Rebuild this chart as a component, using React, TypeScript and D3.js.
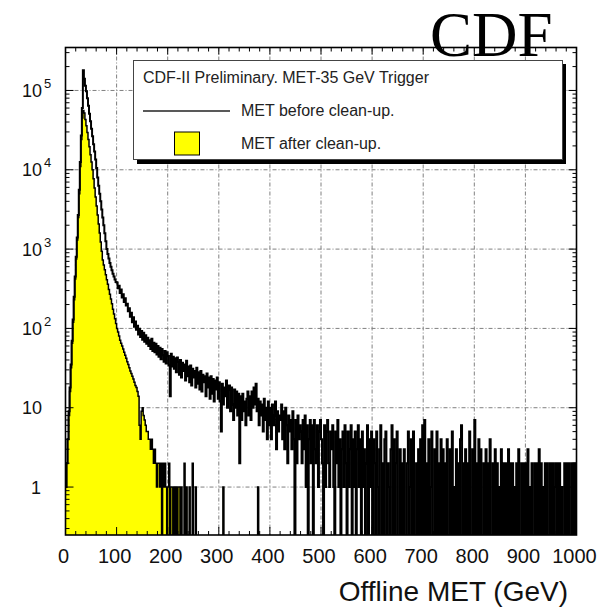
import React from 'react';
import * as d3 from 'd3';

// Histogram bin width in GeV
const BIN_WIDTH = 2;

// MET before clean-up (counts per 2 GeV bin, 0 - 1000 GeV)
const metBefore: number[] = [
  1, 2, 4, 9, 18, 35, 70, 130, 250, 450,
  800, 1400, 2700, 5600, 12500, 27000, 60000, 180000, 140000, 115000,
  98000, 80000, 64000, 51000, 41000, 33000, 26500, 21000, 17000, 13500,
  10500, 8000, 6300, 5000, 4000, 3150, 2500, 2000, 1580, 1260,
  1000, 870, 760, 670, 600, 540, 490, 450, 415, 385,
  380, 320, 345, 280, 310, 245, 270, 215, 240, 195,
  205, 165, 180, 140, 158, 120, 138, 105, 122, 96,
  108, 84, 99, 78, 93, 72, 88, 68, 82, 64,
  76, 60, 71, 55, 74, 52, 66, 50, 64, 47,
  60, 44, 57, 41, 55, 46, 38, 52, 36, 50,
  45, 34, 14, 48, 33, 44, 31, 42, 28, 43,
  38, 26, 40, 24, 37, 29, 35, 22, 39, 25,
  33, 21, 34, 19, 31, 24, 29, 18, 32, 20,
  28, 17, 29, 16, 26, 21, 25, 14, 27, 18,
  24, 13, 25, 15, 23, 12, 22, 17, 24, 13,
  21, 12, 5, 20, 11, 18, 14, 22, 10, 17,
  19, 9, 18, 11, 7, 17, 10, 16, 8, 15,
  2, 14, 7, 15, 9, 12, 6, 13, 16, 8,
  14, 7, 16, 10, 18, 11, 20, 9, 13, 6,
  12, 8, 11, 5, 13, 7, 10, 4, 12, 6,
  10, 4, 11, 6, 8, 12, 3, 9, 5, 8,
  7, 11, 4, 9, 3, 10, 6, 2, 8, 5,
  7, 3, 9, 4, 0, 7, 2, 8, 4, 6,
  5, 2, 7, 3, 8, 1, 6, 0, 4, 7,
  2, 6, 0, 7, 3, 2, 6, 1, 5, 7,
  4, 2, 0, 6, 1, 5, 7, 2, 1, 5,
  3, 6, 1, 0, 5, 2, 7, 1, 4, 0,
  3, 5, 1, 6, 2, 0, 5, 1, 3, 6,
  0, 4, 1, 5, 0, 3, 6, 1, 4, 0,
  5, 1, 3, 0, 2, 6, 0, 4, 1, 5,
  0, 4, 2, 0, 5, 1, 0, 3, 6, 0,
  2, 0, 4, 5, 0, 2, 1, 0, 3, 6,
  0, 4, 0, 2, 5, 0, 0, 3, 0, 2,
  0, 3, 0, 0, 2, 5, 0, 1, 4, 0,
  5, 0, 0, 2, 0, 3, 0, 4, 0, 6,
  0, 7, 0, 2, 0, 4, 0, 1, 5, 0,
  0, 3, 0, 5, 0, 2, 0, 4, 0, 3,
  0, 2, 0, 4, 0, 0, 3, 0, 5, 0,
  1, 0, 3, 0, 2, 0, 4, 6, 0, 2,
  0, 3, 0, 2, 0, 5, 0, 0, 3, 0,
  7, 0, 2, 0, 4, 0, 3, 0, 0, 2,
  0, 3, 0, 2, 0, 4, 0, 0, 2, 0,
  3, 0, 2, 0, 1, 0, 3, 0, 2, 0,
  2, 0, 0, 3, 0, 2, 0, 2, 0, 1,
  0, 2, 0, 3, 0, 0, 2, 0, 2, 0,
  2, 0, 3, 0, 1, 0, 2, 0, 0, 2,
  0, 2, 0, 3, 0, 2, 0, 1, 0, 2,
  0, 2, 0, 0, 2, 0, 2, 0, 1, 2,
  0, 2, 0, 2, 0, 1, 0, 0, 2, 0,
  2, 0, 2, 0, 0, 2, 0, 2, 0, 2,
];

// MET after clean-up (counts per 2 GeV bin, 0 - 380 GeV, zero beyond)
const metAfter: number[] = [
  1, 2, 4, 8, 16, 32, 65, 120, 230, 420,
  750, 1300, 2500, 5000, 11000, 24000, 45000, 56000, 52000, 43000,
  36000, 29500, 24000, 19500, 15500, 12500, 10000, 7700, 5900, 4550,
  3500, 2700, 2070, 1590, 1230, 940, 730, 630, 550, 475,
  410, 360, 310, 270, 235, 205, 175, 152, 132, 115,
  100, 90, 80, 71, 65, 60, 55, 50, 46, 42,
  38, 35, 32, 29, 27, 25, 23, 21, 19, 18,
  16, 14, 6, 4, 9, 10, 8, 7, 6, 5,
  5, 4, 4, 3, 4, 3, 2, 3, 2, 1,
  2, 2, 1, 2, 0, 2, 1, 2, 1, 0,
  1, 2, 0, 1, 1, 0, 1, 0, 1, 0,
  1, 1, 0, 1, 0, 0, 2, 0, 1, 0,
  0, 1, 0, 0, 2, 0, 0, 1, 0, 0,
  0, 0, 0, 0, 0, 0, 0, 0, 0, 0,
  0, 0, 0, 0, 0, 0, 0, 0, 0, 0,
  0, 0, 0, 0, 1, 0, 0, 0, 0, 0,
  0, 0, 0, 0, 0, 0, 0, 0, 0, 0,
  0, 0, 0, 0, 0, 0, 0, 0, 0, 0,
  0, 0, 0, 0, 0, 0, 0, 0, 1, 0,
];

const xTickValues = [0, 100, 200, 300, 400, 500, 600, 700, 800, 900, 1000];
const xTickLabels = ['0', '100', '200', '300', '400', '500', '600', '700', '800', '900', '1000'];
const yDecades = [0, 1, 2, 3, 4, 5];
const yTickBase = ['1', '10', '10', '10', '10', '10'];
const yTickSup = ['', '', '2', '3', '4', '5'];

const legendTitle = 'CDF-II Preliminary. MET-35 GeV Trigger';
const legendBefore = 'MET before clean-up.';
const legendAfter = 'MET after clean-up.';
const xAxisTitle = 'Offline MET (GeV)';
const logoText = 'CDF';

export default function App() {
  const W = 616, H = 612;
  const L = 65.5, R = 576.5, T = 47.5, B = 535;
  const x = d3.scaleLinear().domain([0, 1000]).range([L, R]);
  const y = d3.scaleLog().domain([Math.pow(10, -0.6045), Math.pow(10, 5.5416)]).range([B, T]);

  const yOf = (v: number) => (v > 0 ? y(v) : B + 10);
  const stepPts = (vals: number[]): [number, number][] => {
    const pts: [number, number][] = vals.map((v, i) => [i * BIN_WIDTH, v]);
    pts.push([vals.length * BIN_WIDTH, vals[vals.length - 1]]);
    return pts;
  };
  const line = d3.line<[number, number]>()
    .x(d => x(d[0]))
    .y(d => yOf(d[1]))
    .curve(d3.curveStepAfter);
  const area = d3.area<[number, number]>()
    .x(d => x(d[0]))
    .y0(B + 10)
    .y1(d => yOf(d[1]))
    .curve(d3.curveStepAfter);

  const beforePts = stepPts(metBefore);
  const afterPts = stepPts(metAfter);

  const xMinor = d3.range(0, 1001, 20).filter(v => v % 100 !== 0);
  const yMinor: number[] = [];
  for (let d = -1; d <= 5; d++) {
    for (let k = 2; k <= 9; k++) {
      const v = k * Math.pow(10, d);
      const yy = y(v);
      if (yy > T && yy < B) yMinor.push(v);
    }
  }

  const gridStyle = { stroke: '#808080', strokeWidth: 1, strokeDasharray: '4 2 1 2' };
  const font = "'Liberation Sans', Arial, Helvetica, sans-serif";

  return (
    <svg width={W} height={H} style={{ position: 'absolute', left: 0, top: 0 }} fontFamily={font}>
      <defs>
        <clipPath id="plotClip">
          <rect x={L} y={T} width={R - L} height={B - T} />
        </clipPath>
      </defs>
      <rect x={0} y={0} width={W} height={H} fill="#fff" />

      {/* grid */}
      {xTickValues.filter(v => v > 0 && v < 1000).map(v => (
        <line key={'gx' + v} x1={x(v)} x2={x(v)} y1={T} y2={B} {...gridStyle} />
      ))}
      {yDecades.map(d => (
        <line key={'gy' + d} x1={L} x2={R} y1={y(Math.pow(10, d))} y2={y(Math.pow(10, d))} {...gridStyle} />
      ))}

      {/* histograms */}
      <g clipPath="url(#plotClip)">
        <path d={area(afterPts) || ''} fill="#ffff00" stroke="none" />
        <path d={line(beforePts) || ''} fill="none" stroke="#000" strokeWidth={2} />
        <path d={line(afterPts) || ''} fill="none" stroke="#000" strokeWidth={1.5} />
      </g>

      {/* frame */}
      <rect x={L} y={T} width={R - L} height={B - T} fill="none" stroke="#000" strokeWidth={1.6} />

      {/* x ticks */}
      {xTickValues.map(v => (
        <g key={'xt' + v}>
          <line x1={x(v)} x2={x(v)} y1={B} y2={B - 8} stroke="#000" strokeWidth={1} />
          <line x1={x(v)} x2={x(v)} y1={T} y2={T + 7} stroke="#000" strokeWidth={1} />
        </g>
      ))}
      {xMinor.map(v => (
        <g key={'xm' + v}>
          <line x1={x(v)} x2={x(v)} y1={B} y2={B - 4} stroke="#000" strokeWidth={1} />
          <line x1={x(v)} x2={x(v)} y1={T} y2={T + 4} stroke="#000" strokeWidth={1} />
        </g>
      ))}
      {/* y ticks */}
      {yDecades.map(d => (
        <g key={'yt' + d}>
          <line x1={L} x2={L + 8} y1={y(Math.pow(10, d))} y2={y(Math.pow(10, d))} stroke="#000" strokeWidth={1} />
          <line x1={R} x2={R - 8} y1={y(Math.pow(10, d))} y2={y(Math.pow(10, d))} stroke="#000" strokeWidth={1} />
        </g>
      ))}
      {yMinor.map((v, i) => (
        <g key={'ym' + i}>
          <line x1={L} x2={L + 4} y1={y(v)} y2={y(v)} stroke="#000" strokeWidth={1} />
          <line x1={R} x2={R - 4} y1={y(v)} y2={y(v)} stroke="#000" strokeWidth={1} />
        </g>
      ))}

      {/* x tick labels */}
      {xTickValues.map((v, i) => (
        <text key={'xl' + v} x={x(v) - 2} y={563} fontSize={20} textAnchor="middle" fill="#111">
          {xTickLabels[i]}
        </text>
      ))}

      {/* y tick labels */}
      {yDecades.map((d, i) => (
        <text key={'yl' + d} x={d === 0 ? 31 : 22} y={y(Math.pow(10, d)) + 6.5} fontSize={18} fill="#111">
          {yTickBase[i]}
          {yTickSup[i] && (
            <tspan fontSize={13} dx={2} dy={-9}>{yTickSup[i]}</tspan>
          )}
        </text>
      ))}

      {/* axis title */}
      <text x={568} y={601} fontSize={28} textAnchor="end" fill="#111">{xAxisTitle}</text>

      {/* legend */}
      <rect x={137} y={64} width={429} height={100} fill="#000" />
      <rect x={133.5} y={60.5} width={429} height={99} fill="#fff" stroke="#444" strokeWidth={1} />
      <text x={143} y={83} fontSize={16} fill="#222">{legendTitle}</text>
      <line x1={143} x2={230} y1={111} y2={111} stroke="#222" strokeWidth={1.5} />
      <text x={241} y={116} fontSize={16} fill="#222">{legendBefore}</text>
      <rect x={174.5} y={132} width={25} height={23} fill="#ffff00" stroke="#000" strokeWidth={1} />
      <text x={241} y={149} fontSize={16} fill="#222">{legendAfter}</text>

      {/* logo */}
      <text x={430} y={56} fontSize={63} fontFamily="'Liberation Serif', 'Times New Roman', serif" fill="#000">
        {logoText}
      </text>
    </svg>
  );
}
